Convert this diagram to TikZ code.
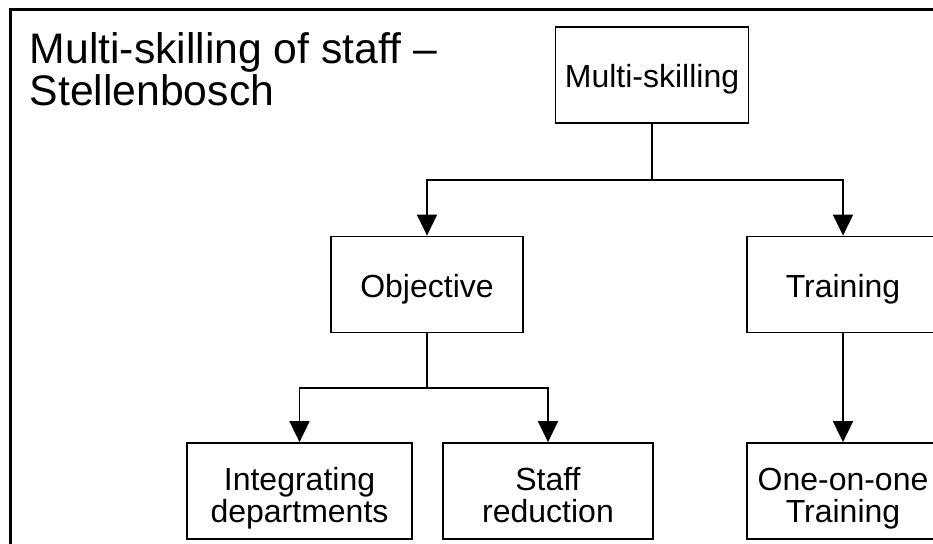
\documentclass[tikz,border=0pt]{standalone}
\usepackage{fontspec}
\setmainfont{Liberation Sans}
\usetikzlibrary{arrows.meta}
% fixed extent for the two-line labels: 37pt above the first baseline,
% 7pt below the last one
\newcommand\toprule{\rule{0pt}{37pt}}
\newcommand\botrule{\rule[-7pt]{0pt}{7pt}}
\begin{document}
\begin{tikzpicture}[x=1pt,y=-1pt,
  box/.style={draw, line width=1.8pt, minimum width=#1, minimum height=96pt,
    inner sep=0pt, align=center, font=\fontsize{32}{32}\selectfont},
  oneline/.style={text height=25pt, text depth=0pt},
  link/.style={line width=1.8pt},
  flow/.style={link, -{Triangle[width=20pt,length=21pt]}},
]
% page area and slide frame
\clip (0,0) rectangle (933,543);
\fill[white] (0,0) rectangle (933,543);
\draw[line width=3pt] (10,570) -- (10,10) -- (960,10);

% title (anchored on the baseline of its last line)
\node[anchor=base west, inner sep=0pt, align=left,
  font=\fontsize{42.7}{41.7}\selectfont] (title) at (29.5,105)
  {Multi-skilling of staff --\\Stellenbosch};

% hierarchy boxes
\node[box=193pt, oneline] (ms)  at (652,75)    {Multi-skilling};
\node[box=192pt, oneline] (obj) at (427,284.5) {Objective};
\node[box=192pt, oneline] (tr)  at (843,284.5) {Training};
\node[box=225pt] (int)   at (299.5,491) {\toprule Integrating\\departments\botrule};
\node[box=210pt] (staff) at (548,491)   {\toprule Staff\\reduction\botrule};
\node[box=192pt] (one)   at (843,491)   {\toprule One-on-one\\Training\botrule};

% connectors
\coordinate (j1) at (ms.south |- 0,180);
\draw[link] (ms.south) -- (j1);
\draw[flow] (j1) -| (obj.north);
\draw[flow] (j1) -| (tr.north);

\coordinate (j2) at (obj.south |- 0,388);
\draw[link] (obj.south) -- (j2);
\draw[flow] (j2) -| (int.north);
\draw[flow] (j2) -| (staff.north);

\draw[flow] (tr.south) -- (one.north);
\end{tikzpicture}
\end{document}
